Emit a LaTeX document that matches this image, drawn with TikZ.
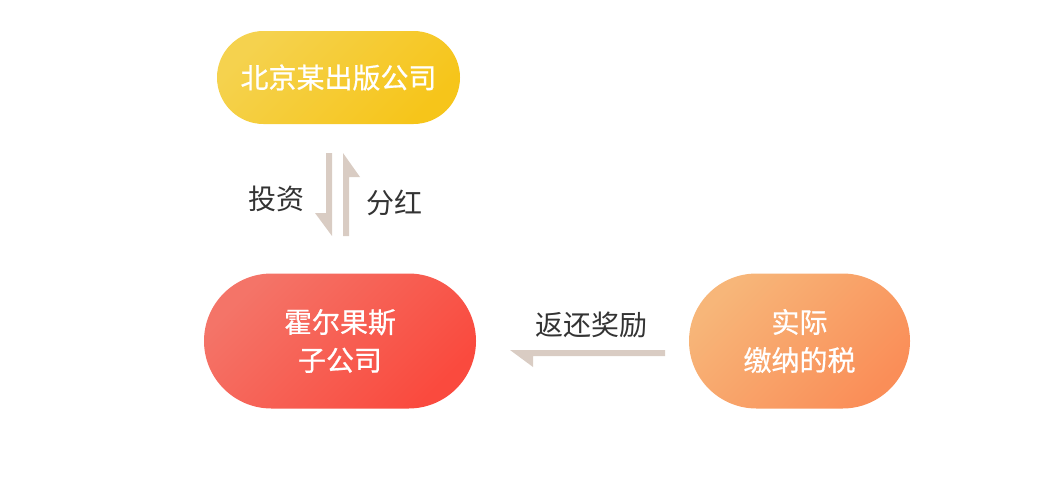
\documentclass[tikz,border=0pt]{standalone}
\usepackage{fontspec}
\setmainfont{Noto Sans CJK SC}
\newfontfamily\boxfont{Noto Sans CJK SC}[FakeBold=0.6]
\definecolor{pubA}{HTML}{F5D24E}
\definecolor{pubB}{HTML}{F6C51A}
\definecolor{subA}{HTML}{F47468}
\definecolor{subB}{HTML}{FA4A3E}
\definecolor{taxA}{HTML}{F7B679}
\definecolor{taxB}{HTML}{FA8E58}
\definecolor{arrowgrey}{HTML}{D9CCC3}
\definecolor{labelgrey}{HTML}{333333}
\begin{document}
\begin{tikzpicture}[x=1pt,y=-1pt,
  capsule/.style={rectangle, inner sep=0pt, text=white, align=center,
    font=\boxfont\fontsize{28}{38}\selectfont, shading angle=45},
  lbl/.style={text=labelgrey, font=\fontsize{28}{32}\selectfont},
  halfarrow/.style={fill=arrowgrey}]
\useasboundingbox (0,0) rectangle (1040,488);

% boxes
\node[capsule, minimum width=243pt, minimum height=93pt, rounded corners=46.5pt,
  top color=pubA, bottom color=pubB, shading angle=45] (pub) at (338.5,77.5) {北京某出版公司};
\node[capsule, minimum width=272pt, minimum height=135pt, rounded corners=67.5pt,
  top color=subA, bottom color=subB, shading angle=45] (sub) at (340,341) {霍尔果斯\\子公司};
\node[capsule, minimum width=221pt, minimum height=135pt, rounded corners=67.5pt,
  top color=taxA, bottom color=taxB, shading angle=45] (tax) at (799.5,341) {实际\\缴纳的税};

% arrow ends
\coordinate (inv) at (326,153);
\coordinate (div) at (343,236);
\coordinate (ret) at (665,350);

\fill[halfarrow] (inv) -- ++(6,0) -- ++(0,83) -- ++(-17,-23) -- ++(11,0) -- cycle;
\fill[halfarrow] (div) -- ++(0,-83) -- ++(17,24) -- ++(-11,0) -- ++(0,59) -- cycle;
\fill[halfarrow] (ret) -- ++(-155,0) -- ++(23,17) -- ++(0,-11) -- ++(132,0) -- cycle;

% labels
\node[lbl] (invlbl) at (276,199) {投资};
\node[lbl] (divlbl) at (394,203) {分红};
\node[lbl] (retlbl) at (591,325) {返还奖励};
\end{tikzpicture}
\end{document}
